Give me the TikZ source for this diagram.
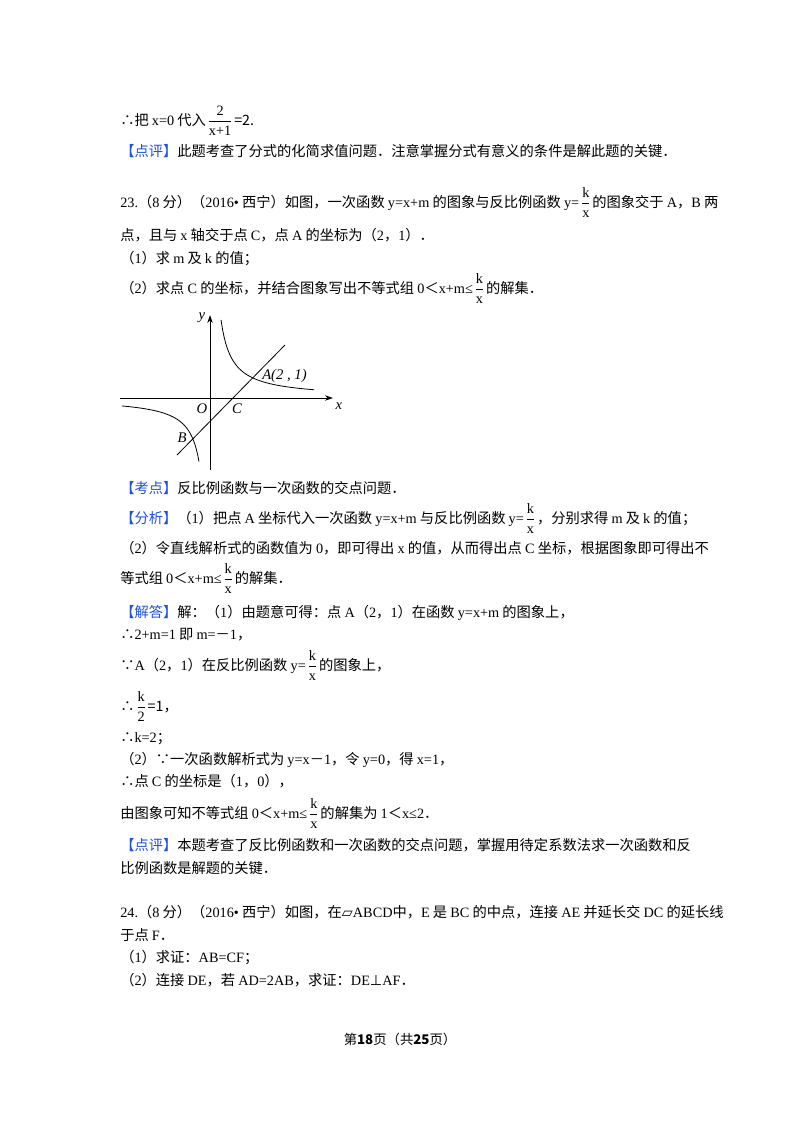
\documentclass[tikz,border=0pt]{standalone}
\usetikzlibrary{arrows.meta}
\usepackage{fontspec}
\setmainfont{Liberation Serif}
\newfontfamily\cjk{Noto Sans CJK SC}
\newfontfamily\latinfam{Liberation Serif}
\newfontfamily\dejav{DejaVu Sans}
\XeTeXinterchartokenstate=1
\newXeTeXintercharclass\cjkclass
\newXeTeXintercharclass\cjkpclass
\count255="4E00
\loop\ifnum\count255<"A000 \XeTeXcharclass\count255=\cjkclass \advance\count255 by 1 \repeat
\count255="3000
\loop\ifnum\count255<"3040 \XeTeXcharclass\count255=\cjkpclass \advance\count255 by 1 \repeat
\count255="FF00
\loop\ifnum\count255<"FFF0 \XeTeXcharclass\count255=\cjkpclass \advance\count255 by 1 \repeat
\XeTeXcharclass"2234=\cjkpclass
\XeTeXcharclass"2235=\cjkpclass
\XeTeXinterchartoks 0 \cjkclass = {\hskip0.22em\cjk}
\XeTeXinterchartoks 4095 \cjkclass = {\cjk}
\XeTeXinterchartoks \cjkclass 0 = {\latinfam\hskip0.22em}
\XeTeXinterchartoks 0 \cjkpclass = {\cjk}
\XeTeXinterchartoks 4095 \cjkpclass = {\cjk}
\XeTeXinterchartoks \cjkpclass 0 = {\latinfam}
\definecolor{lblue}{RGB}{30,80,230}
\newcommand\lb[1]{\textcolor{lblue}{#1}}
\newcommand\fr[2]{\hskip0.1em${\displaystyle\frac{\hbox{\latinfam #1}}{\hbox{\latinfam #2}}}$\hskip0.1em}
\begin{document}
\begin{tikzpicture}[x=0.75pt,y=-0.75pt,
  tl/.style={anchor=base west,inner sep=0pt,font=\fontsize{10.7}{13}\selectfont},
  gl/.style={inner sep=0pt,font=\fontsize{11}{13}\selectfont\itshape},
  ax/.style={line width=0.6pt,-{Stealth[length=6pt,width=4pt]}},
  cv/.style={line width=0.6pt}]
\useasboundingbox (0,0) rectangle (800,1132);
\fill[white] (0,0) rectangle (800,1132);
\node[tl] (l1) at (120,125) {∴把x=0代入\fr{2}{x+1}=2.};
\node[tl] (l2) at (120,156) {\lb{【点评】}此题考查了分式的化简求值问题．注意掌握分式有意义的条件是解此题的关键．};
\node[tl] (l3) at (120,207) {23.（8分）（2016•西宁）如图，一次函数y=x+m的图象与反比例函数y=\fr{k}{x}的图象交于A，B两};
\node[tl] (l4) at (120,240) {点，且与x轴交于点C，点A的坐标为（2，1）．};
\node[tl] (l5) at (120,263) {（1）求m及k的值；};
\node[tl] (l6) at (120,293) {（2）求点C的坐标，并结合图象写出不等式组0＜x+m≤\fr{k}{x}的解集．};
% graph
\coordinate (O) at (210,398);
\coordinate (xs) at (120,398); \coordinate (xe) at (333,398);
\coordinate (ys) at (210,470); \coordinate (ye) at (210,315);
\coordinate (ls) at (177,455); \coordinate (le) at (285,345);
\draw[ax] (xs) -- (xe);
\draw[ax] (ys) -- (ye);
\draw[cv] (ls) -- (le);
\draw[cv,shift={(O)}] plot[domain=11:104,samples=60] (\x,{-860/\x});
\draw[cv,shift={(O)}] plot[domain=-88:-11,samples=60] (\x,{700/abs(\x)});
\node[gl] (ny) at (202,318) {y};
\node[gl] (nx) at (339,406) {x};
\node[gl] (nO) at (202,409) {O};
\node[gl] (nC) at (237,409) {C};
\node[gl,anchor=west] (nA) at (262,376) {A(2 , 1)};
\node[gl] (nB) at (182,438) {B};
% text
\node[tl] (l7) at (120,493) {\lb{【考点】}反比例函数与一次函数的交点问题．};
\node[tl] (l8) at (120,523) {\lb{【分析】}（1）把点A坐标代入一次函数y=x+m与反比例函数y=\fr{k}{x}，分别求得m及k的值；};
\node[tl] (l9) at (120,553) {（2）令直线解析式的函数值为0，即可得出x的值，从而得出点C坐标，根据图象即可得出不};
\node[tl] (l10) at (120,583) {等式组0＜x+m≤\fr{k}{x}的解集．};
\node[tl] (l11) at (120,617) {\lb{【解答】}解：（1）由题意可得：点A（2，1）在函数y=x+m的图象上，};
\node[tl] (l12) at (120,639) {∴2+m=1即m=－1，};
\node[tl] (l13) at (120,670) {∵A（2，1）在反比例函数y=\fr{k}{x}的图象上，};
\node[tl] (l14) at (120,711) {∴\fr{k}{2}=1，};
\node[tl] (l15) at (120,742) {∴k=2；};
\node[tl] (l16) at (120,764) {（2）∵一次函数解析式为y=x－1，令y=0，得x=1，};
\node[tl] (l17) at (120,786) {∴点C的坐标是（1，0），};
\node[tl] (l18) at (120,818) {由图象可知不等式组0＜x+m≤\fr{k}{x}的解集为1＜x≤2．};
\node[tl] (l19) at (120,850) {\lb{【点评】}本题考查了反比例函数和一次函数的交点问题，掌握用待定系数法求一次函数和反};
\node[tl] (l20) at (120,873) {比例函数是解题的关键．};
\node[tl] (l21) at (120,917) {24.（8分）（2016•西宁）如图，在{\dejav ▱}{\latinfam ABCD}中，E是BC的中点，连接AE并延长交DC的延长线};
\node[tl] (l22) at (120,940) {于点F．};
\node[tl] (l23) at (120,962) {（1）求证：AB=CF；};
\node[tl] (l24) at (120,985) {（2）连接DE，若AD=2AB，求证：DE{\dejav ⊥}{\latinfam AF}．};
\node[anchor=base,inner sep=0pt,font=\fontsize{10}{12}\selectfont] (ft) at (400,1044) {第\textbf{18}页（共\textbf{25}页）};
\end{tikzpicture}
\end{document}
